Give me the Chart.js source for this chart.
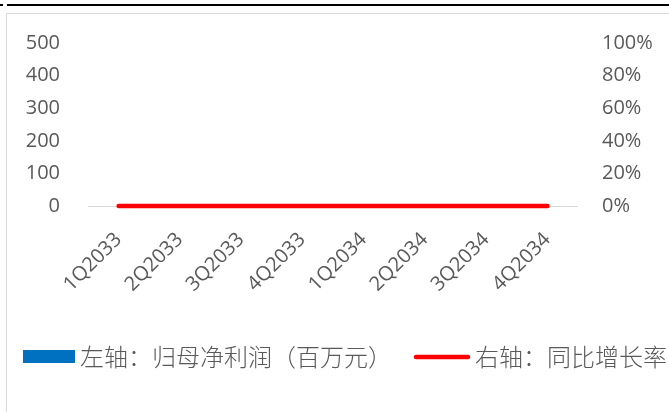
<!DOCTYPE html>
<html>
<head>
<meta charset="utf-8">
<script src="https://cdn.jsdelivr.net/npm/chart.js@4.4.1/dist/chart.umd.min.js"></script>
<style>
  html, body { margin: 0; padding: 0; background: #fff; }
  #wrap { width: 669px; height: 412px; position: relative; }
</style>
</head>
<body>
<div id="wrap"><canvas id="myChart"></canvas></div>
<script>
// quarters on the x axis
const quarters = ["1Q2033", "2Q2033", "3Q2033", "4Q2033", "1Q2034", "2Q2034", "3Q2034", "4Q2034"];
// net profit attributable to parent (million yuan), left axis
const netProfit = [0, 0, 0, 0, 0, 0, 0, 0];
// year-on-year growth, right axis (fraction)
const yoyGrowth = [0, 0, 0, 0, 0, 0, 0, 0];
const leftTicks = [0, 100, 200, 300, 400, 500];
const rightTicks = [0, 0.2, 0.4, 0.6, 0.8, 1];

const profitLabel = "左轴：归母净利润（百万元）";
const growthLabel = "右轴：同比增长率";

const tickFont = { family: '"Open Sans", sans-serif', size: 20 };
const tickColor = "#595959";

// page frame: heavy rule at the top, light box round the chart
const framePlugin = {
  id: "frame",
  beforeDraw(chart) {
    const ctx = chart.ctx;
    ctx.save();
    ctx.fillStyle = "#fff";
    ctx.fillRect(0, 0, chart.width, chart.height);
    ctx.strokeStyle = "#000";
    ctx.lineWidth = 2;
    ctx.beginPath();
    ctx.moveTo(0, 5);
    ctx.lineTo(3, 5);
    ctx.moveTo(7, 5);
    ctx.lineTo(chart.width, 5);
    ctx.stroke();
    ctx.strokeStyle = "#d9d9d9";
    ctx.lineWidth = 1;
    ctx.beginPath();
    ctx.moveTo(6.5, chart.height);
    ctx.lineTo(6.5, 13.5);
    ctx.lineTo(chart.width, 13.5);
    ctx.stroke();
    ctx.restore();
  },
};

// legend row under the axis labels
const legendPlugin = {
  id: "bottomLegend",
  afterDraw(chart) {
    const ctx = chart.ctx;
    const ds = chart.data.datasets;
    const y = 357;
    ctx.save();
    ctx.font = '300 24px "Noto Sans CJK SC", sans-serif';
    ctx.textBaseline = "middle";

    ctx.fillStyle = ds[0].backgroundColor;
    ctx.fillRect(23, 350, 52, 13);
    ctx.fillStyle = tickColor;
    ctx.fillText(ds[0].label, 80, y);

    ctx.strokeStyle = ds[1].borderColor;
    ctx.lineWidth = 4.5;
    ctx.lineCap = "round";
    ctx.beginPath();
    ctx.moveTo(416, y);
    ctx.lineTo(468, y);
    ctx.stroke();
    ctx.fillText(ds[1].label, 475, y);
    ctx.restore();
  },
};

const ctx = document.getElementById("myChart").getContext("2d");
const myChart = new Chart(ctx, {
  type: "bar",
  data: {
    labels: quarters,
    datasets: [
      {
        type: "bar",
        label: profitLabel,
        data: netProfit,
        backgroundColor: "#0070C0",
        borderWidth: 0,
        yAxisID: "y",
        order: 2,
      },
      {
        type: "line",
        label: growthLabel,
        data: yoyGrowth,
        borderColor: "#FF0000",
        backgroundColor: "#FF0000",
        borderWidth: 4.5,
        borderCapStyle: "round",
        pointRadius: 0,
        tension: 0,
        clip: false,
        yAxisID: "y1",
        order: 1,
      },
    ],
  },
  options: {
    responsive: true,
    maintainAspectRatio: false,
    animation: false,
    layout: { padding: { top: 43, left: 0, right: 0, bottom: 0 } },
    plugins: {
      legend: { display: false },
      tooltip: { enabled: false },
    },
    scales: {
      x: {
        grid: { display: false, drawTicks: false },
        border: { display: false },
        ticks: {
          color: tickColor,
          font: tickFont,
          minRotation: 45,
          maxRotation: 45,
          autoSkip: false,
          padding: 22,
        },
        afterFit: (scale) => {
          scale.height = 206;
        },
      },
      y: {
        position: "left",
        min: leftTicks[0],
        max: leftTicks[leftTicks.length - 1],
        afterBuildTicks: (scale) => {
          scale.ticks = leftTicks.map((v) => ({ value: v }));
        },
        grid: {
          drawTicks: false,
          color: (c) => (c.tick && c.tick.value === 0 ? "#d9d9d9" : "rgba(0,0,0,0)"),
          lineWidth: 1,
        },
        border: { display: false },
        ticks: { color: tickColor, font: tickFont, padding: 28 },
        afterFit: (scale) => {
          scale.width = 88;
        },
      },
      y1: {
        position: "right",
        min: rightTicks[0],
        max: rightTicks[rightTicks.length - 1],
        afterBuildTicks: (scale) => {
          scale.ticks = rightTicks.map((v) => ({ value: v }));
        },
        grid: { display: false, drawTicks: false },
        border: { display: false },
        ticks: {
          color: tickColor,
          font: tickFont,
          padding: 24,
          callback: (v) => Math.round(v * 100) + "%",
        },
        afterFit: (scale) => {
          scale.width = 91;
        },
      },
    },
  },
  plugins: [framePlugin, legendPlugin],
});
</script>
</body>
</html>
